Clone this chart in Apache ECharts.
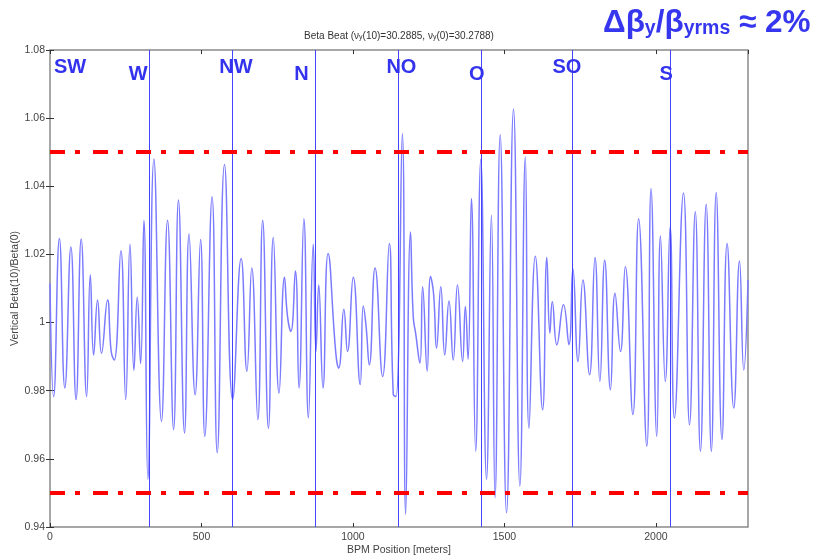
<!DOCTYPE html>
<html><head><meta charset="utf-8">
<script src="https://cdn.jsdelivr.net/npm/echarts@6/dist/echarts.min.js"></script>
<style>html,body{margin:0;padding:0;background:#fff}#c{width:818px;height:560px}</style>
</head><body><div id="c"></div>
<script>
// BPM position (m) of each turning point of the beta-beat trace
const positions = [
  0,12,31,49,69,86,103,121,133,144,157,170,190,202,212,234,250,264,277,288,299,310,323,343,368,388,408,424,444,459,479,497,511,535,552,576,603,
  631,650,666,686,702,721,737,756,774,784,795,810,822,838,853,869,878,887,901,918,944,953,970,982,1001,1024,1034,1043,1054,1073,1098,1120,1133,1142,1163,1174,1190,1199,1207,1221,1230,
  1245,1256,1266,1276,1290,1303,1317,1331,1345,1362,1371,1380,1391,1405,1422,1441,1457,1469,1486,1507,1530,1551,1569,1581,1602,1626,1640,1650,1658,1673,1695,1713,1726,1743,1759,1781,1799,1815,1831,1850,1865,
  1883,1899,1924,1943,1970,1984,2003,2015,2031,2047,2061,2091,2111,2130,2147,2166,2183,2199,2218,2235,2257,2276,2290,2304
];
// Vertical Beta(10)/Beta(0) at those positions
const values = [
  1.0115,0.9783,1.0247,0.9808,1.0222,0.9774,1.0245,0.9783,1.014,0.9905,1.0066,0.991,1.0066,0.9915,0.989,1.0211,0.9774,1.023,0.986,1.0074,0.988,1.030,0.954,1.048,0.971,1.030,0.9686,1.036,0.9676,1.026,0.9788,1.0244,0.9666,1.0369,0.9618,1.0464,0.9774,
  1.0188,0.9857,1.016,0.9715,1.030,0.969,1.025,0.9793,1.0133,1.0018,0.9974,1.0151,0.9808,1.0305,0.972,1.023,0.9915,1.011,0.9808,1.0203,0.9905,0.9866,1.0039,0.9915,1.0133,0.9818,1.0049,0.9993,0.9876,1.016,0.9842,1.0232,0.979,0.9783,1.0554,0.9437,1.0266,1.0018,0.9968,0.9881,1.0105,
  0.9857,1.0135,1.0086,0.9925,1.0105,0.9905,1.0063,0.989,1.011,0.9886,1.0047,0.9893,1.0364,0.9622,1.0479,0.954,1.0315,0.9486,1.0551,0.9442,1.0627,0.952,1.0486,0.969,1.0195,0.9744,1.0191,0.9969,1.0061,0.9935,1.0052,0.9935,1.0159,0.9886,1.0125,0.9847,1.0191,0.9827,1.0183,0.9803,1.0086,
  0.9915,1.0164,0.973,1.0305,0.9637,1.0393,0.9666,1.0254,0.9827,1.0281,0.972,1.038,0.97,1.0325,0.9622,1.0347,0.9622,1.0382,0.9657,1.0232,0.9749,1.0181,0.9861,1.0125
];
const sectorNames = ['SW','W','NW','N','NO','O','SO','S'];
const sectorLabelX = [66,291,614,830,1160,1409,1706,2034];
const sectorLabelY = [1.075,1.0728,1.075,1.0728,1.075,1.0728,1.075,1.0728];
const sectorLines = [326,601,877,1149,1424,1723,2046];
const limitLines = [1.0515,0.9515];
const xMin = 0, xMax = 2304, xStep = 500;
const yMin = 0.94, yMax = 1.08, yStep = 0.02;
const titleText = '{a|Beta Beat (ν}{s|y}{a|(10)=30.2885, ν}{s|y}{a|(0)=30.2788)}';
const xName = 'BPM Position [meters]';
const yName = 'Vertical Beta(10)/Beta(0)';

const FONT = "'Liberation Sans', Arial, sans-serif";
const chart = echarts.init(document.getElementById('c'), null, {renderer:'canvas'});
const tickStyle = {inside:true, length:4, lineStyle:{color:'#333', width:1}};
const lblStyle = {color:'#444', fontSize:10.5, fontFamily:FONT};
const yFmt = v => String(Number(v.toFixed(2)));
const xFmt = v => String(v);

chart.setOption({
  animation:false,
  backgroundColor:'#fff',
  grid:{left:50, right:70, top:50, bottom:33, outerBoundsMode:'none', containLabel:false,
        show:true, borderColor:'#8a8a8a', borderWidth:1.5, backgroundColor:'#fff'},
  xAxis:[
    {type:'value', min:xMin, max:xMax, interval:xStep, position:'bottom',
     axisLine:{show:false}, axisTick:tickStyle, splitLine:{show:false},
     axisLabel:Object.assign({margin:5, showMaxLabel:false, formatter:xFmt}, lblStyle),
     name:xName, nameLocation:'middle', nameGap:18, nameMoveOverlap:false,
     nameTextStyle:{color:'#444', fontSize:10.5, fontFamily:FONT}},
    {type:'value', min:xMin, max:xMax, interval:xStep, position:'top',
     axisLine:{show:false}, axisTick:tickStyle, splitLine:{show:false}, axisLabel:{show:false}}
  ],
  yAxis:[
    {type:'value', min:yMin, max:yMax, interval:yStep, position:'left',
     axisLine:{show:false}, axisTick:tickStyle, splitLine:{show:false},
     axisLabel:Object.assign({margin:5, formatter:yFmt}, lblStyle),
     name:yName, nameLocation:'middle', nameGap:29, nameMoveOverlap:false,
     nameTextStyle:{color:'#444', fontSize:10.5, fontFamily:FONT}},
    {type:'value', min:yMin, max:yMax, interval:yStep, position:'right',
     axisLine:{show:false}, axisTick:tickStyle, splitLine:{show:false}, axisLabel:{show:false}}
  ],
  graphic:[
    {type:'text', z:100, style:{x:399, y:27, align:'center', text:titleText, fill:'#333',
      rich:{a:{fontSize:10, fontFamily:FONT, fill:'#333', lineHeight:14, verticalAlign:'bottom'},
            s:{fontSize:7, fontFamily:FONT, fill:'#333', lineHeight:10, verticalAlign:'bottom'}}}},
    {type:'text', z:100, style:{x:603, y:5, text:'{b|Δβ}{s|y}{b|/β}{s|yrms}{b| ≈ 2%}', fill:'#3636ee',
      rich:{b:{fontSize:31.5, fontWeight:'bold', fontFamily:FONT, fill:'#3636ee', lineHeight:34, verticalAlign:'bottom'},
            s:{fontSize:19.5, fontWeight:'bold', fontFamily:FONT, fill:'#3636ee', lineHeight:20, verticalAlign:'bottom'}}}}
  ],
  series:[
    {type:'line', name:'beat', data:positions.map((x,i)=>[x, values[i]]), showSymbol:false, symbol:'none',
     smooth:0.5, lineStyle:{color:'#7b7bff', width:1.5}, z:2, silent:true},
    {type:'scatter', name:'sectors', symbolSize:0, z:5, silent:true, itemStyle:{opacity:1, color:'#3333ee'},
     data:sectorNames.map((n,i)=>[sectorLabelX[i], sectorLabelY[i], n]),
     label:{show:true, position:'inside', formatter:p=>p.data[2], color:'#3333ee', opacity:1, fontSize:20, fontWeight:'bold', fontFamily:FONT}},
    {type:'line', name:'sectorLines', data:[], z:4, silent:true, itemStyle:{color:'#4444ff'}, lineStyle:{color:'#4444ff'},
     markLine:{silent:true, symbol:['none','none'], label:{show:false}, emphasis:{disabled:true},
       itemStyle:{color:'#4444ff'},
       lineStyle:{color:'#4444ff', width:1, type:'solid', opacity:1},
       data:sectorLines.map(x=>({xAxis:x}))}},
    {type:'line', name:'limits', data:[], z:6, silent:true, itemStyle:{color:'#ff0000'},
     markLine:{silent:true, symbol:['none','none'], label:{show:false}, emphasis:{disabled:true},
       lineStyle:{color:'#ff0000', width:4, type:[15,10,5,13], opacity:1},
       data:limitLines.map(y=>({yAxis:y}))}}
  ]
});
</script></body></html>
